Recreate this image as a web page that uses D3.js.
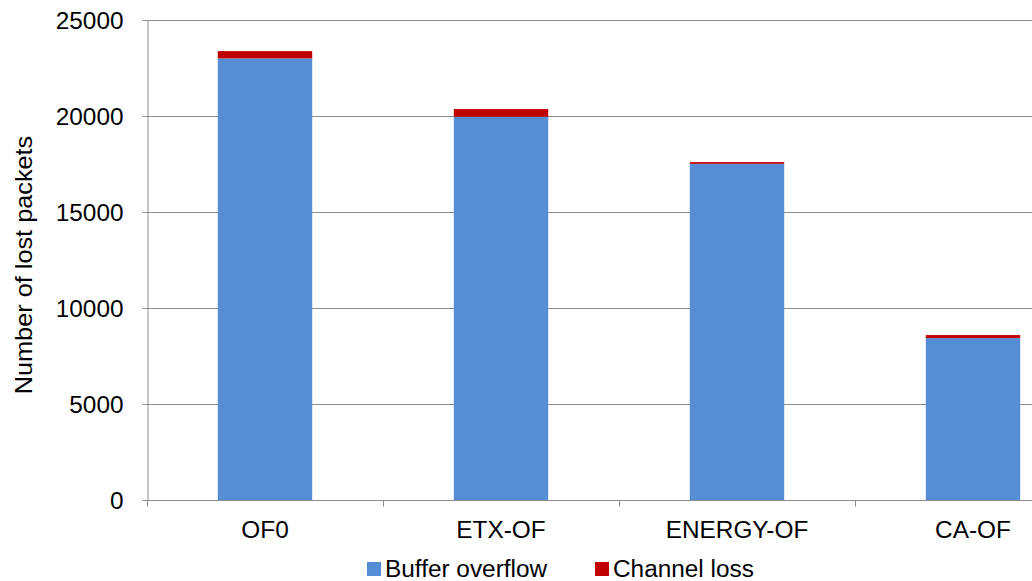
<!DOCTYPE html>
<html>
<head>
<meta charset="utf-8">
<script src="https://cdn.jsdelivr.net/npm/d3@7"></script>
<style>
  html, body { margin: 0; padding: 0; background: #fff; }
  svg { display: block; }
  text { font-family: "Liberation Sans", Arial, sans-serif; fill: #000; }
</style>
</head>
<body>
<svg id="chart" width="1032" height="581"></svg>
<script>
const categories = ["OF0", "ETX-OF", "ENERGY-OF", "CA-OF"];
const seriesNames = ["Buffer overflow", "Channel loss"];
const bufferOverflow = [23000, 19960, 17510, 8430];
const channelLoss = [380, 400, 90, 160];
const yTicks = [0, 5000, 10000, 15000, 20000, 25000];
const colors = ["#558ED5", "#C00000"];

(function () {
const svg = d3.select("#chart");
const plotLeft = 147, plotTop = 20, plotBottom = 500;
const step = 236;
const x = d3.scaleBand().domain(categories)
  .range([plotLeft, plotLeft + step * categories.length])
  .paddingInner(0.6).paddingOuter(0.3);
const y = d3.scaleLinear().domain([0, 25000]).range([plotBottom, plotTop]);
const xPlotRight = plotLeft + step * categories.length;
const FS = 23, SX = 1.06;

// gridlines
svg.append("g").selectAll("line").data(yTicks.filter(d => d > 0)).join("line")
  .attr("x1", plotLeft).attr("x2", xPlotRight)
  .attr("y1", d => Math.round(y(d)) + 0.5).attr("y2", d => Math.round(y(d)) + 0.5)
  .attr("stroke", "#8c8c8c").attr("stroke-width", 1);

// stacked bars
const table = categories.map((c, i) => ({cat: c, "Buffer overflow": bufferOverflow[i], "Channel loss": channelLoss[i]}));
const stacked = d3.stack().keys(seriesNames)(table);
svg.append("g").selectAll("g").data(stacked).join("g")
  .attr("fill", (d, i) => colors[i])
  .selectAll("rect").data(d => d).join("rect")
  .attr("x", d => x(d.data.cat))
  .attr("width", x.bandwidth())
  .attr("y", d => y(d[1]))
  .attr("height", d => y(d[0]) - y(d[1]));

// y axis
const yAxis = svg.append("g").attr("transform", `translate(${plotLeft + 0.5},0)`)
  .call(d3.axisLeft(y).tickValues(yTicks).tickSize(5).tickSizeOuter(0).tickFormat(d3.format("d")));
yAxis.select(".domain").attr("stroke", "#8c8c8c");
yAxis.selectAll(".tick line").attr("stroke", "#8c8c8c");
yAxis.selectAll(".tick text").remove();
yAxis.selectAll(".tick").append("text")
  .attr("text-anchor", "end")
  .attr("transform", `translate(-24,8) scale(${SX},1)`)
  .style("font-size", FS + "px")
  .text(d => d3.format("d")(d));

// x axis
const xAxis = svg.append("g").attr("transform", `translate(0,${plotBottom + 0.5})`);
xAxis.append("line").attr("x1", plotLeft).attr("x2", xPlotRight).attr("stroke", "#8c8c8c");
xAxis.selectAll("line.tk").data(d3.range(categories.length + 1)).join("line")
  .attr("class", "tk")
  .attr("x1", i => plotLeft + 0.5 + i * step).attr("x2", i => plotLeft + 0.5 + i * step)
  .attr("y1", 0).attr("y2", 6).attr("stroke", "#8c8c8c");
xAxis.selectAll("text").data(categories).join("text")
  .attr("text-anchor", "middle")
  .attr("transform", d => `translate(${x(d) + x.bandwidth() / 2},37.5) scale(${SX},1)`)
  .style("font-size", FS + "px")
  .text(d => d);

// y title
svg.append("text")
  .attr("text-anchor", "middle")
  .attr("transform", `translate(32,265) rotate(-90) scale(1.1,1)`)
  .style("font-size", FS + "px")
  .text("Number of lost packets");

// legend
const legendItems = [{name: seriesNames[0], x: 367}, {name: seriesNames[1], x: 595}];
const lg = svg.append("g");
lg.selectAll("rect").data(legendItems).join("rect")
  .attr("x", d => d.x).attr("y", 562).attr("width", 14).attr("height", 14)
  .attr("fill", (d, i) => colors[i]);
lg.selectAll("text").data(legendItems).join("text")
  .attr("transform", d => `translate(${d.x + 18},577) scale(${SX},1)`)
  .style("font-size", FS + "px")
  .text(d => d.name);
})();
</script>
</body>
</html>
